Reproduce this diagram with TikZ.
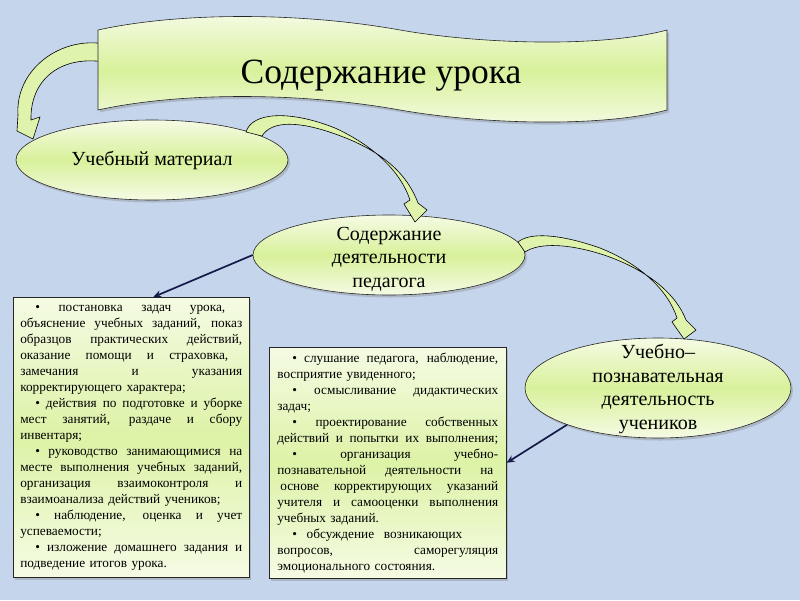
\documentclass[tikz,border=0pt]{standalone}
\usepackage{fontspec}
\setmainfont{Liberation Serif}
\usetikzlibrary{shapes.geometric,shadows,arrows.meta}

\definecolor{bgblue}{RGB}{197,213,236}
\definecolor{lime}{RGB}{216,241,155}
\definecolor{limepale}{RGB}{245,251,228}
\definecolor{navy}{RGB}{22,26,72}

\newcommand{\jline}[2][\linewidth]{\leavevmode\hbox to #1{\spaceskip=.25em plus 1fil\xspaceskip=.25em plus 1fil\relax#2}}

\begin{document}
\begin{tikzpicture}[x=1pt,y=-1pt,
	limefill/.style={draw=black!85,line width=0.6pt,top color=limepale,bottom color=limepale,middle color=lime},
	shadowed/.style={drop shadow={opacity=0.35,shadow xshift=2pt,shadow yshift=-2.5pt}},
	bubble/.style={limefill,shadowed,ellipse,inner sep=0pt},
	bubtext/.style={align=center,font=\fontsize{20}{23.5}\selectfont},
	listbox/.style={limefill,shadowed,middle color=lime!85!limepale,rectangle,anchor=north west,inner xsep=7pt,font=\fontsize{13.3}{16}\selectfont},
	curved/.style={draw=black,line width=0.6pt,fill=lime!75!limepale},
	link/.style={draw=navy,line width=1.7pt,-{Stealth[length=8pt,width=7pt]}}]
	\fill[bgblue] (0,0) rectangle (800,600);
	\draw[curved] (105,44) .. controls (60,36) and (15,70) .. (18,115) -- (17,131) -- (33,139) -- (40,117) -- (31,120) .. controls (30,80) and (60,55) .. (105,62) -- cycle;
	\draw[limefill,shadowed] (98,30) .. controls (180,12) and (300,12) .. (400,30) .. controls (480,44) and (600,48) .. (667,30) -- (667,110) .. controls (600,128) and (480,124) .. (400,110) .. controls (300,92) and (180,92) .. (98,110) -- cycle;
	\node[anchor=base,font=\fontsize{35.5}{40}\selectfont] (title) at (381,83) {Содержание урока};
	\node[bubble,minimum width=272pt,minimum height=80pt] (mat) at (152,160) {};
	\node[bubble,minimum width=272pt,minimum height=80pt] (ped) at (389,255) {};
	\node[bubble,minimum width=266pt,minimum height=100pt] (stu) at (658,388) {};
	\node[bubtext] (matlbl) at (mat) {Учебный материал};
	\node[bubtext] (pedlbl) at (389,259) {Содержание\\деятельности\\педагога};
	\node[bubtext] (stulbl) at (658,389) {Учебно–\\познавательная\\деятельность\\учеников};
	\node[listbox,text width=222pt,minimum height=280pt] (box1) at (13,297) {\noindent
		\jline[205pt]{\hspace*{15pt}• постановка задач урока,}\\
		\jline{объяснение учебных заданий, показ}\\
		\jline{образцов практических действий,}\\
		\jline[208pt]{оказание помощи и страховка,}\\
		\jline{замечания и указания}\\
		корректирующего характера;\\
		\jline{\hspace*{15pt}• действия по подготовке и уборке}\\
		\jline{мест занятий, раздаче и сбору}\\
		инвентаря;\\
		\jline{\hspace*{15pt}• руководство занимающимися на}\\
		\jline{месте выполнения учебных заданий,}\\
		\jline{организация взаимоконтроля и}\\
		взаимоанализа действий учеников;\\
		\jline{\hspace*{15pt}• наблюдение, оценка и учет}\\
		успеваемости;\\
		\jline{\hspace*{15pt}• изложение домашнего задания и}\\
		подведение итогов урока.};
	\node[listbox,text width=221pt,inner xsep=8pt,minimum height=231pt] (box2) at (269,347) {\noindent
		\jline{\hspace*{15pt}• слушание педагога, наблюдение,}\\
		восприятие увиденного;\\
		\jline{\hspace*{15pt}• осмысливание дидактических}\\
		задач;\\
		\jline{\hspace*{15pt}• проектирование собственных}\\
		\jline{действий и попытки их выполнения;}\\
		\jline{\hspace*{15pt}• организация учебно-}\\
		\jline[216pt]{познавательной деятельности на}\\
		\jline{\hspace*{3pt}основе корректирующих указаний}\\
		\jline{учителя и самооценки выполнения}\\
		учебных заданий.\\
		\jline[185pt]{\hspace*{15pt}• обсуждение возникающих}\\
		\jline{вопросов, саморегуляция}\\
		эмоционального состояния.};
	\draw[curved] (246,132) .. controls (252,112) and (290,110) .. (335,128) .. controls (372,145) and (400,170) .. (410,200) -- (404,204) -- (415,222) -- (427,210) -- (418,203) .. controls (408,176) and (385,152) .. (338,135) .. controls (300,121) and (272,120) .. (262,136) -- cycle;
	\draw[curved] (518,242) .. controls (530,232) and (560,234) .. (600,248) .. controls (640,264) and (668,290) .. (677,318) -- (672,322) -- (684,339) -- (696,330) -- (686,320) .. controls (676,294) and (648,270) .. (604,255) .. controls (570,244) and (540,242) .. (525,252) -- cycle;
	\draw[link] (ped.west) -- ([xshift=22pt]box1.north);
	\draw[link] (stu.202) -- (box2.east);
\end{tikzpicture}
\end{document}
